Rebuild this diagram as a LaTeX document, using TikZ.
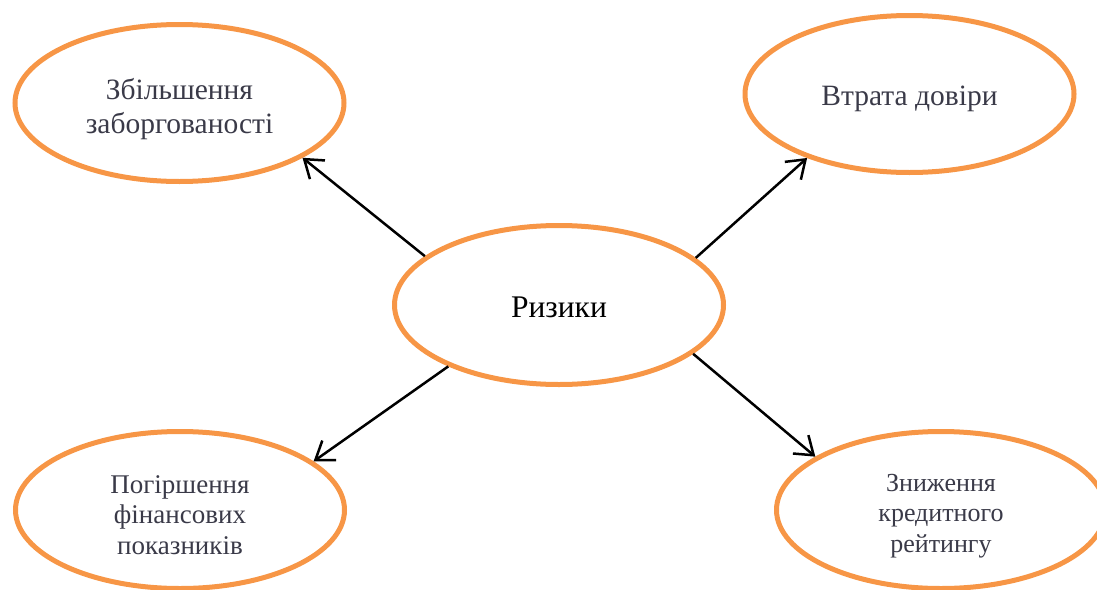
\documentclass[tikz,border=0pt]{standalone}
\usepackage{fontspec}
\setmainfont{Liberation Serif}
\usetikzlibrary{shapes.geometric,arrows.meta}
\definecolor{ringorange}{RGB}{247,150,70}
\definecolor{softtext}{RGB}{58,58,72}
\tikzset{
  bubble/.style={ellipse, draw=ringorange, line width=5pt, inner sep=0pt,
    minimum width=329pt, minimum height=157pt},
  caption/.style={align=center, text=softtext, inner sep=0pt},
  link/.style={line width=2.5pt, -{Straight Barb[length=17pt,width=24pt,line width=2.5pt]}}
}
\begin{document}
\begin{tikzpicture}[x=1pt,y=1pt]
\useasboundingbox (0,0) rectangle (1097,-589);
\node[bubble, minimum height=159pt] (c) at (559,-305) {};
\node[bubble] (tl) at (179.5,-103) {};
\node[bubble] (tr) at (909.5,-94) {};
\node[bubble] (bl) at (180,-510) {};
\node[bubble] (br) at (941,-510) {};
\node[caption, text=black, font=\fontsize{31.5}{34}\selectfont] (ct) at (559,-307) {Ризики};
\node[caption, font=\fontsize{29.5}{34}\selectfont] (tlt) at (179.5,-109) {Збільшення\\заборгованості};
\node[caption, font=\fontsize{29.5}{33}\selectfont] (trt) at (909.5,-99) {Втрата довіри};
\node[caption, font=\fontsize{27}{30.5}\selectfont] (blt) at (180,-515) {Погіршення\\фінансових\\показників};
\node[caption, font=\fontsize{26}{30.5}\selectfont] (brt) at (941,-516) {Зниження\\кредитного\\рейтингу};
\draw[link] (c.160.9) -- (tl.-24.3);
\draw[link] (c.19.4) -- (tr.-148.6);
\draw[link] (c.209.2) -- (bl.20);
\draw[link] (c.-20.9) -- (br.157);
\end{tikzpicture}
\end{document}
